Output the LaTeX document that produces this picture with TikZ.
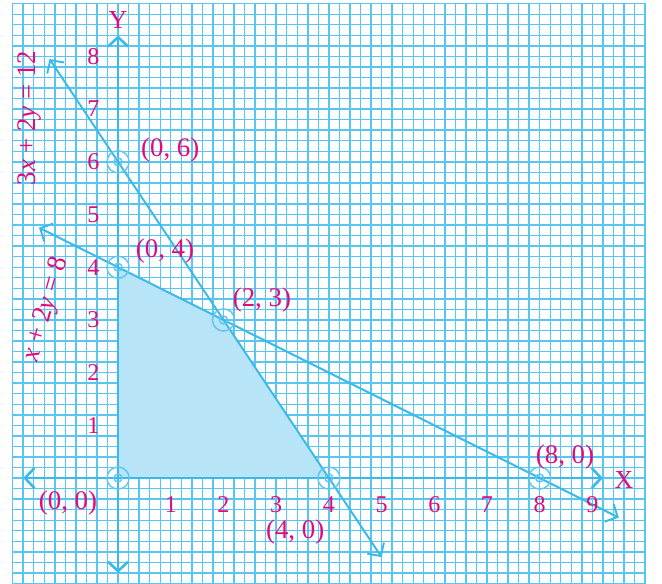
\documentclass[tikz,border=0pt]{standalone}
\usepackage{fontspec}
\setmainfont{Liberation Serif}
\usepackage{xcolor}
\usetikzlibrary{arrows.meta,positioning,calc}

\definecolor{gridblue}{RGB}{88,198,240}
\definecolor{lineblue}{RGB}{58,186,234}
\definecolor{markblue}{RGB}{95,198,240}
\definecolor{regionblue}{RGB}{184,228,248}
\definecolor{labelpink}{RGB}{226,10,124}

\begin{document}
\begin{tikzpicture}[
    >={Straight Barb[length=1.8mm,width=3.8mm]},
    gridline/.style={gridblue, line width=0.75pt},
    axisline/.style={lineblue, line width=1.4pt, <->},
    eqline/.style={lineblue, line width=1.05pt, <->},
    corner/.style={circle, draw=markblue, line width=0.8pt, minimum size=4.2mm, inner sep=0pt,
        path picture={\draw[markblue, line width=0.8pt] (path picture bounding box.center) circle (0.75mm);}},
    lbl/.style={text=labelpink, font=\fontsize{14.5}{17}\selectfont, inner sep=1pt},
    tick/.style={text=labelpink, font=\fontsize{13}{15}\selectfont, inner sep=1pt}
]
    \useasboundingbox (-2.24,-2.01) rectangle (10.32,9.07);
    \draw[gridline, step=0.2] (-2,-2.2) grid (10.01,9.01);

    \coordinate (o) at (0,0);
    \coordinate (c40) at (4,0);
    \coordinate (c23) at (2,3);
    \coordinate (c04) at (0,4);
    \fill[regionblue] (o) -- (c40) -- (c23) -- (c04) -- cycle;

    \coordinate (xl) at (-1.8,0);
    \coordinate (xr) at (9.2,0);
    \coordinate (yb) at (0,-1.8);
    \coordinate (yt) at (0,8.4);
    \draw[axisline] (xl) -- (xr);
    \draw[axisline] (yb) -- (yt);

    \coordinate (la) at (-1.3,7.95);
    \coordinate (lb) at (5,-1.5);
    \coordinate (ma) at (-1.5,4.75);
    \coordinate (mb) at (9.5,-0.75);
    \draw[eqline] (la) -- (lb);
    \draw[eqline] (ma) -- (mb);

    \node[corner] (p00) at (o) {};
    \node[corner] (p40) at (c40) {};
    \node[corner] (p23) at (c23) {};
    \node[corner] (p04) at (c04) {};
    \node[corner] (p06) at (0,6) {};
    \node[corner] (p80) at (8,0) {};

    \foreach \n in {1,...,9}
        \node[tick] (x\n) at (\n,-0.5) {\n};
    \foreach \n in {1,...,8}
        \node[tick] (y\n) at (-0.47,\n) {\n};

    \node[tick, font=\fontsize{14}{16}\selectfont] (ylab) at (0,8.69) {Y};
    \node[tick, font=\fontsize{14}{16}\selectfont] (xlab) at (9.6,-0.04) {X};

    \node[lbl] (t06) at (0.99,6.22) {(0, 6)};
    \node[lbl] (t04) at (0.89,4.3) {(0, 4)};
    \node[lbl] (t23) at (2.73,3.38) {(2, 3)};
    \node[lbl] (t00) at (-0.95,-0.47) {(0, 0)};
    \node[lbl] (t40) at (3.36,-1.02) {(4, 0)};
    \node[lbl] (t80) at (8.48,0.4) {(8, 0)};

    \node[lbl, rotate=90] (eqa) at (-1.68,6.83) {3\textit{x} + 2\textit{y} = 12};
    \node[lbl, rotate=74] (eqb) at (-1.36,3.2) {\textit{x} + 2\textit{y} = 8};
\end{tikzpicture}
\end{document}
